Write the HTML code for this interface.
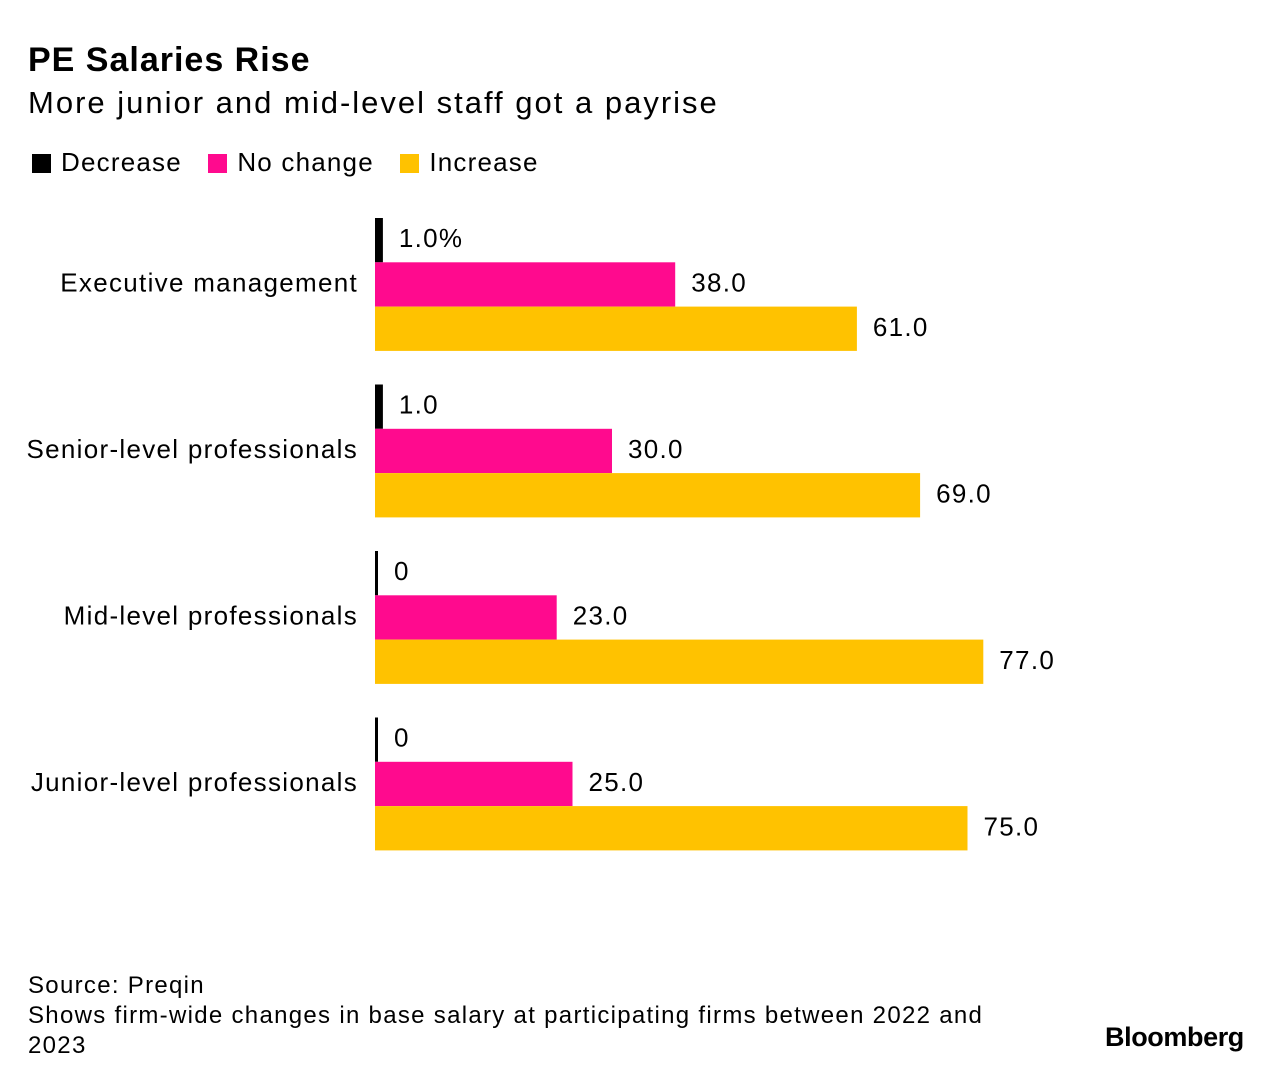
<!DOCTYPE html>
<html><head><meta charset="utf-8"><style>
body{margin:0;background:#fff;font-family:"Liberation Sans",Arial,sans-serif;color:#000}
#wrap{position:relative;width:1284px;height:1084px;overflow:hidden}
.t{position:absolute;white-space:nowrap}
</style></head><body>
<div id="wrap">
<div class="t" style="left:28px;top:41px;font-size:34px;font-weight:bold;letter-spacing:1px">PE Salaries Rise</div>
<div class="t" style="left:28px;top:85px;font-size:31px;letter-spacing:2px">More junior and mid-level staff got a payrise</div>
<div class="t" style="left:32px;top:147px;font-size:26px;letter-spacing:1.2px">
<span><span style="display:inline-block;width:19px;height:19px;background:#000;vertical-align:-2px;margin-right:10px"></span>Decrease</span>
<span style="margin-left:18px"><span style="display:inline-block;width:19px;height:19px;background:#ff0a8e;vertical-align:-2px;margin-right:10px"></span>No change</span>
<span style="margin-left:18px"><span style="display:inline-block;width:19px;height:19px;background:#ffc200;vertical-align:-2px;margin-right:10px"></span>Increase</span>
</div>
<svg id="plot" width="1284" height="1084" style="position:absolute;left:0;top:0"></svg>
<div class="t" style="left:28px;top:971px;font-size:24px;line-height:30px;letter-spacing:1.3px">Source: Preqin<br>Shows firm-wide changes in base salary at participating firms between 2022 and<br>2023</div>
<div class="t" style="left:1105px;top:1022px;font-size:27px;font-weight:bold;letter-spacing:-0.4px">Bloomberg</div>
</div>
<script>
const categories=["Executive management","Senior-level professionals","Mid-level professionals","Junior-level professionals"];
const decrease=[1,1,0,0];
const noChange=[38,30,23,25];
const increase=[61,69,77,75];
const seriesNames=["decrease","no-change","increase"];
const colors=["#000","#ff0a8e","#ffc200"];
const svg=document.getElementById('plot');
const NS="http://www.w3.org/2000/svg";
const x0=375,scale=7.9;
function xs(v){return x0+v*scale;}
const groupTop=218,groupStep=166.5,barH=44.3;
function fmt(v,i,s){if(v===0)return "0";let t=v.toFixed(1);if(i===0&&s===0)t+="%";return t;}
categories.forEach((c,i)=>{
  const vals=[decrease[i],noChange[i],increase[i]];
  const gy=groupTop+i*groupStep;
  vals.forEach((v,s)=>{
    const y=gy+s*barH;
    const w=Math.max(xs(v)-x0,3);
    const r=document.createElementNS(NS,'rect');
    r.setAttribute('x',x0);r.setAttribute('y',y);r.setAttribute('width',w);r.setAttribute('height',barH);
    r.setAttribute('fill',colors[s]);
    
    
    svg.appendChild(r);
    const t=document.createElementNS(NS,'text');
    t.setAttribute('x',x0+w+16);t.setAttribute('y',y+barH/2+7);
    t.setAttribute('font-size','26');t.setAttribute('font-family','Liberation Sans, Arial, sans-serif');
    t.setAttribute('letter-spacing','1.3');
    t.textContent=fmt(v,i,s);
    
    
    svg.appendChild(t);
  });
  const l=document.createElementNS(NS,'text');
  l.setAttribute('x',358);l.setAttribute('y',gy+barH*1.5+7);
  l.setAttribute('text-anchor','end');l.setAttribute('font-size','26');
  l.setAttribute('letter-spacing','1.3');
  l.setAttribute('font-family','Liberation Sans, Arial, sans-serif');
  l.textContent=c;
  
  
  svg.appendChild(l);
});
</script>
</body></html>
